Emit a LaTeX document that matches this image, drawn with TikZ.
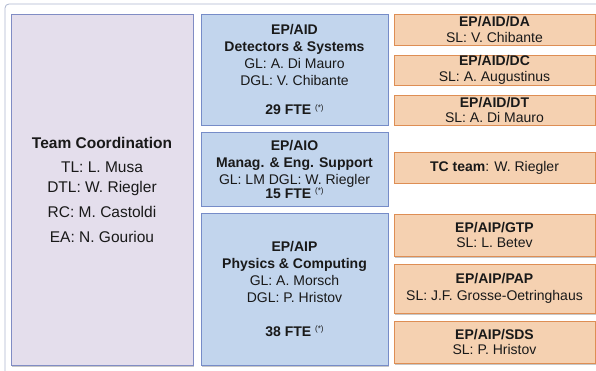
\documentclass[tikz,border=0pt]{standalone}
\usepackage{fontspec}
\setmainfont{Liberation Sans}
\usetikzlibrary{shadows}
\definecolor{lavfill}{RGB}{228,222,236}
\definecolor{lavdraw}{RGB}{128,140,196}
\definecolor{bluefill}{RGB}{194,213,237}
\definecolor{bluedraw}{RGB}{118,140,200}
\definecolor{orfill}{RGB}{245,209,177}
\definecolor{ordraw}{RGB}{222,142,84}
\definecolor{framecol}{RGB}{172,182,206}
\definecolor{txt}{RGB}{25,25,25}
\newcommand\ftemark{\raisebox{4.5pt}{\fontsize{8}{9}\selectfont\mdseries(*)}}
\begin{document}
\begin{tikzpicture}[x=1pt,y=-1pt,
  boxbase/.style={line width=0.8pt, inner sep=0pt, align=center, text=txt,
    drop shadow={shadow xshift=1pt, shadow yshift=-1.5pt, fill=black, opacity=0.22}},
  leadbox/.style={boxbase, draw=lavdraw, fill=lavfill, minimum width=182pt,
    font=\fontsize{15.5}{20}\selectfont},
  groupbox/.style={boxbase, draw=bluedraw, fill=bluefill, minimum width=187pt,
    font=\fontsize{14}{17}\selectfont},
  secbox/.style={boxbase, draw=ordraw, fill=orfill, minimum width=201pt,
    font=\fontsize{14}{15.5}\selectfont},
  frame/.style={draw=framecol, line width=0.8pt, rounded corners=4pt}]
\useasboundingbox (0,0) rectangle (596,371);
\draw[frame] (5,4) rectangle (610,385);
% team coordination
\node[leadbox, minimum height=351pt] (lead) at (102,189.5)
  {{\bfseries Team Coordination}\\[4pt] TL: L. Musa\\ DTL: W. Riegler\\[5pt] RC: M. Castoldi\\[5pt] EA: N. Gouriou};
% groups
\node[groupbox, minimum height=111pt] (aid) at (294.5,69.5)
  {{\bfseries EP/AID}\\ {\bfseries Detectors \& Systems}\\ GL: A. Di Mauro\\ DGL: V. Chibante\\[12pt] {\bfseries 29 FTE \ftemark}};
\node[groupbox, minimum height=74pt] (aio) at (294.5,169)
  {{\bfseries EP/AIO}\\ {\bfseries Manag. \& Eng. Support}\\ GL: LM DGL: W. Riegler\\[-3pt] {\bfseries 15 FTE \ftemark}};
\node[groupbox, minimum height=152pt] (aip) at (294.5,289)
  {{\bfseries EP/AIP}\\ {\bfseries Physics \& Computing}\\ GL: A. Morsch\\ DGL: P. Hristov\\[17pt] {\bfseries 38 FTE \ftemark}};
% sections
\node[secbox, minimum height=31pt] (da) at (494.5,29.5)
  {{\bfseries EP/AID/DA}\\ SL: V. Chibante};
\node[secbox, minimum height=30pt] (dc) at (494.5,70)
  {{\bfseries EP/AID/DC}\\ SL: A. Augustinus};
\node[secbox, minimum height=30pt] (dt) at (494.5,110)
  {{\bfseries EP/AID/DT}\\ SL: A. Di Mauro};
\node[secbox, minimum height=31pt] (tc) at (494.5,167.5)
  {{\bfseries TC team}: W. Riegler};
\node[secbox, minimum height=42pt] (gtp) at (494.5,235)
  {{\bfseries EP/AIP/GTP}\\ SL: L. Betev};
\node[secbox, minimum height=49pt] (pap) at (494.5,288.5)
  {{\bfseries EP/AIP/PAP}\\[2pt] SL: J.F. Grosse-Oetringhaus};
\node[secbox, minimum height=42pt] (sds) at (494.5,342)
  {{\bfseries EP/AIP/SDS}\\ SL: P. Hristov};
\end{tikzpicture}
\end{document}
